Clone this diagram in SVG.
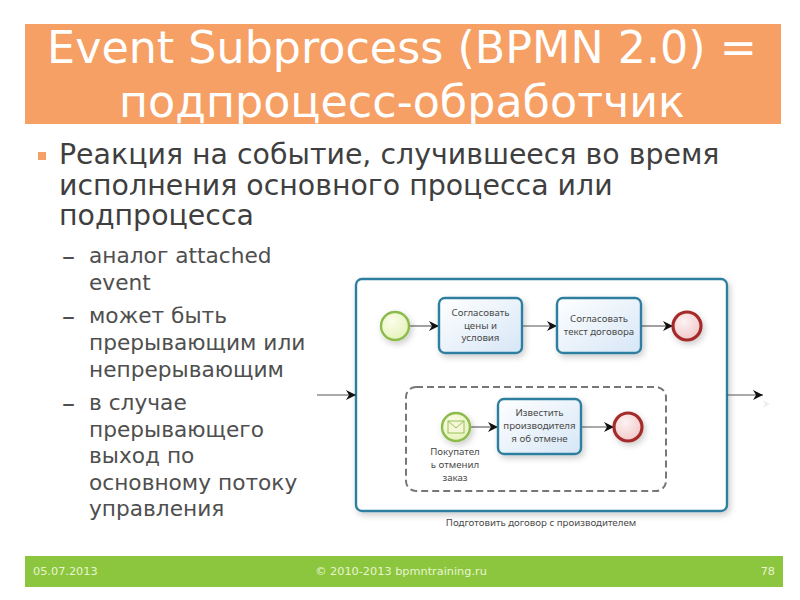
<svg xmlns="http://www.w3.org/2000/svg" width="800" height="600" viewBox="0 0 800 600">
<style>
text{font-family:"DejaVu Sans",sans-serif}
.title{font-size:44.4px;fill:#fff;text-anchor:middle}
.l1{font-size:28.4px;fill:#3f3f3f}
.l2{font-size:21.7px;fill:#4f4f4f}
.dash{font-size:26px;fill:#4f4f4f}
.foot{font-size:11.3px;fill:#e8f5d0}
.lab{font-family:"Noto Sans",sans-serif;font-size:9.7px;fill:#4a4a4a;text-anchor:middle}
.task{fill:url(#tg);stroke:#2f7f9f;stroke-width:2.4;filter:url(#sh)}
.start{fill:url(#sg);stroke:#8dbb4b;stroke-width:2.4;filter:url(#sh)}
.end{fill:url(#eg);stroke:#a52a2a;stroke-width:3.2;filter:url(#sh)}
.flow{fill:none;stroke:#555;stroke-width:1.1;marker-end:url(#ah)}
</style>
<defs>
<linearGradient id="tg" x1="0" y1="0" x2="1" y2="1"><stop offset="0" stop-color="#fff"/><stop offset="1" stop-color="#d6e6f6"/></linearGradient>
<radialGradient id="sg" cx=".4" cy=".35" r=".75"><stop offset="0" stop-color="#fbfdea"/><stop offset="1" stop-color="#e2f2b4"/></radialGradient>
<radialGradient id="eg" cx=".4" cy=".35" r=".75"><stop offset="0" stop-color="#fdf2f2"/><stop offset="1" stop-color="#f0c4c4"/></radialGradient>
<filter id="sh" x="-20%" y="-20%" width="150%" height="150%"><feDropShadow dx="2" dy="3" stdDeviation="3" flood-color="#000" flood-opacity=".2"/></filter>
<marker id="ah" markerUnits="userSpaceOnUse" markerWidth="11" markerHeight="12" refX="10" refY="6" orient="auto"><path d="M0 1L10 6L0 11L3 6Z" fill="#111"/></marker>
</defs>
<rect width="800" height="600" fill="#fff"/>
<g id="title-band"><rect x="25" y="24" width="756" height="100" fill="#f6a066"/>
<text class="title" x="402" y="63">Event Subprocess (BPMN 2.0) =</text>
<text class="title" x="402" y="117">подпроцесс-обработчик</text></g>
<g id="body">
<rect x="38" y="152" width="8" height="8" fill="#f6a066"/>
<text class="l1" x="59" y="164">Реакция на событие, случившееся во время</text>
<text class="l1" x="59" y="195">исполнения основного процесса или</text>
<text class="l1" x="59" y="225">подпроцесса</text>
<g class="l2">
<text class="dash" x="62" y="265">–</text><text x="89" y="263">аналог attached</text><text x="89" y="290">event</text>
<text class="dash" x="62" y="325">–</text><text x="89" y="323">может быть</text><text x="89" y="350">прерывающим или</text><text x="89" y="377">непрерывающим</text>
<text class="dash" x="62" y="412">–</text><text x="89" y="410">в случае</text><text x="89" y="437">прерывающего</text><text x="89" y="463">выход по</text><text x="89" y="490">основному потоку</text><text x="89" y="516">управления</text>
</g></g>
<g id="pool"><rect x="356" y="279" width="371" height="232" rx="6" fill="#fff" stroke="#2f7f9f" stroke-width="2.4" filter="url(#sh)"/>
<text class="lab" x="541" y="526">Подготовить договор с производителем</text></g>
<g id="event-subprocess"><rect x="406" y="387" width="260" height="104" rx="10" fill="#fff" stroke="#777" stroke-width="2" stroke-dasharray="7 4"/></g>
<g id="connectors">
<path class="flow" d="M409 326H439"/><path class="flow" d="M522 326H557"/><path class="flow" d="M641 326H673"/>
<path class="flow" d="M470 427H498"/><path class="flow" d="M581 427H614"/>
<path class="flow" d="M317 395H356"/><path class="flow" d="M727 395H763"/>
<path d="M763 400L770 404L763 408L765 404Z" fill="#eee"/>
</g>
<g id="start"><circle class="start" cx="395" cy="326" r="14"/></g>
<g id="task1"><rect class="task" x="439" y="298" width="83" height="55" rx="6"/>
<text class="lab" x="480.500" y="316">Согласовать</text><text class="lab" x="480.500" y="329">цены и</text><text class="lab" x="480.500" y="341">условия</text></g>
<g id="task2"><rect class="task" x="557" y="298" width="84" height="55" rx="6"/>
<text class="lab" x="599" y="322">Согласовать</text><text class="lab" x="599" y="335">текст договора</text></g>
<g id="end1"><circle class="end" cx="687" cy="326" r="14"/></g>
<g id="msg-start"><circle class="start" cx="456" cy="427" r="14"/>
<rect x="448" y="421" width="16" height="12" fill="#f4f8d8" stroke="#9cbf5a"/><path d="M448 421L456 428L464 421" fill="none" stroke="#9cbf5a"/>
<text class="lab" x="455" y="455">Покупател</text><text class="lab" x="455" y="468">ь отменил</text><text class="lab" x="455" y="481">заказ</text></g>
<g id="task3"><rect class="task" x="498" y="399" width="83" height="55" rx="6"/>
<text class="lab" x="539.500" y="416">Известить</text><text class="lab" x="539.500" y="429">производителя</text><text class="lab" x="539.500" y="442">я об отмене</text></g>
<g id="end2"><circle class="end" cx="628" cy="427" r="14"/></g>
<g id="footer"><rect x="25" y="556" width="758" height="31" fill="#8cc63f"/>
<text class="foot" x="33" y="575">05.07.2013</text>
<text class="foot" x="401" y="575" text-anchor="middle">© 2010-2013 bpmntraining.ru</text>
<text class="foot" x="775" y="575" text-anchor="end">78</text></g>
</svg>
